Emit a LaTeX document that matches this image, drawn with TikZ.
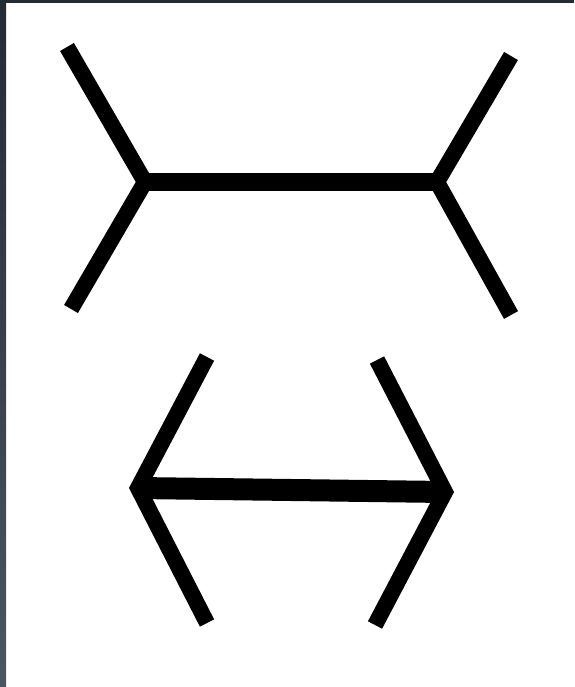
\documentclass[tikz,border=0pt]{standalone}
\usepackage{xcolor}
\usepackage{tikz}
\definecolor{frametop}{HTML}{232B34}
\definecolor{framebot}{HTML}{4B5663}

\begin{document}
\begin{tikzpicture}[
  x=1pt,y=-1pt,
  fin/.style={line width=16pt,line cap=butt,line join=miter,miter limit=4},
  shaft/.style={line width=18pt,line cap=butt},
  frame/.style={top color=frametop,bottom color=framebot,draw=none}
]
\useasboundingbox (0,0) rectangle (574,687);
\fill[white] (0,0) rectangle (574,687);
\fill[frame] (0,0) rectangle (6,687);
\fill[frametop] (0,0) rectangle (574,3);
% upper figure: fins pointing outward
\coordinate (upL) at (145,182);
\coordinate (upR) at (437,182);
\coordinate (upLa) at (67,47);
\coordinate (upLb) at (71,309);
\coordinate (upRa) at (511,56);
\coordinate (upRb) at (511,315);
\draw[shaft] (upL) -- (upR);
\draw[fin] (upLa) -- (upL) -- (upLb);
\draw[fin] (upRa) -- (upR) -- (upRb);
% lower figure: arrowheads
\coordinate (loL) at (138,488);
\coordinate (loR) at (445,492);
\coordinate (loLa) at (207,357);
\coordinate (loLb) at (207,623);
\coordinate (loRa) at (377,360);
\coordinate (loRb) at (375,625);
\draw[shaft,line width=22pt] (loL) -- (loR);
\draw[fin] (loLa) -- (loL) -- (loLb);
\draw[fin] (loRa) -- (loR) -- (loRb);
\end{tikzpicture}
\end{document}
